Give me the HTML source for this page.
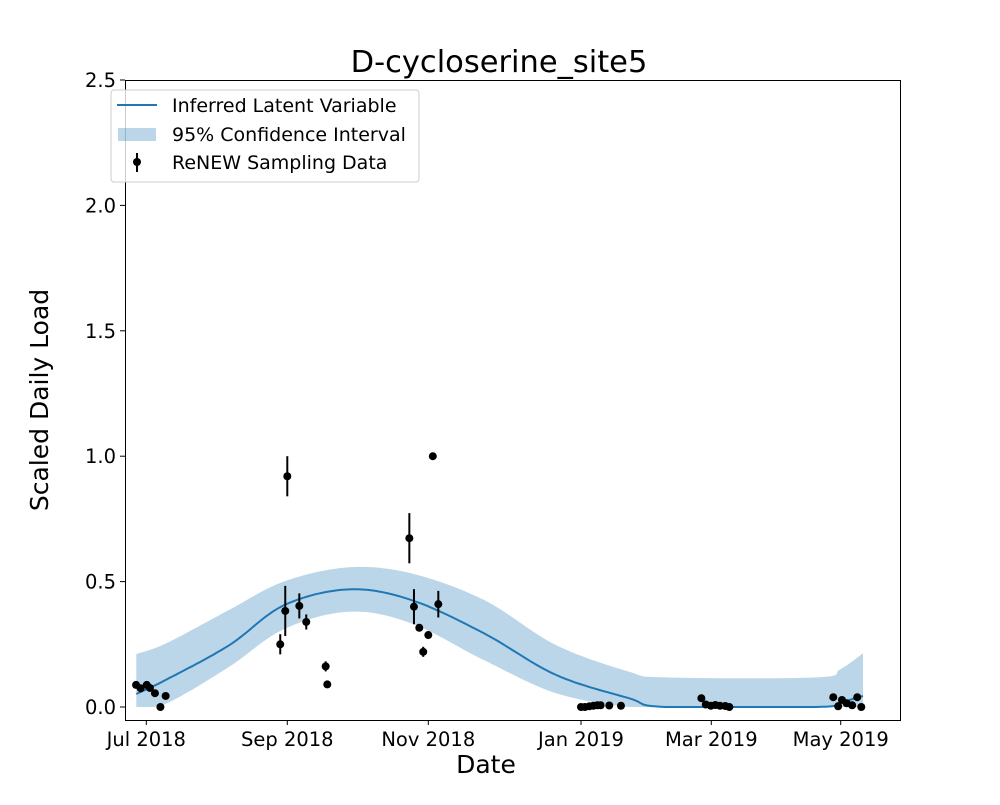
<!DOCTYPE html>
<html><head><meta charset="utf-8"><style>
body{margin:0;background:#fff}
svg text{font-family:"DejaVu Sans","Liberation Sans",sans-serif;fill:#000}
</style></head><body>
<svg id="chart" width="1000" height="800" xmlns="http://www.w3.org/2000/svg">
<rect width="1000" height="800" fill="#fff"/>
<g id="band"></g><g id="line"></g><g id="pts"></g>
<rect x="125.5" y="80.5" width="775" height="640" fill="none" stroke="#000" stroke-width="1"/>
<g id="xt"></g><g id="yt"></g>
<text x="499" y="72" font-size="30.5" text-anchor="middle">D-cycloserine_site5</text>
<text x="486" y="773" font-size="25" text-anchor="middle">Date</text>
<text transform="translate(48,400) rotate(-90)" font-size="25" text-anchor="middle">Scaled Daily Load</text>
<g>
<rect x="111" y="90" width="308" height="92" rx="3" fill="#fff" fill-opacity="0.8" stroke="#ccc"/>
<line x1="117" y1="105" x2="157" y2="105" stroke="#1f77b4" stroke-width="2"/>
<rect x="118" y="128" width="38" height="13" fill="#1f77b4" fill-opacity="0.3"/>
<line x1="137" y1="153" x2="137" y2="172" stroke="#000" stroke-width="2"/>
<circle cx="137" cy="162" r="4" fill="#000"/>
<text x="172" y="112" font-size="19">Inferred Latent Variable</text>
<text x="172" y="141" font-size="19">95% Confidence Interval</text>
<text x="172" y="169" font-size="19">ReNEW Sampling Data</text>
</g>
</svg>
<script>
// days since 2018-07-01
const pointDays=[-4.5,-2.5,0.2,1.6,3.8,6.2,8.5,58.9,61.1,62,67.2,70.2,78.6,79.3,114.8,116.8,119.1,120.8,123,124.8,127,184,185.8,187.8,189.6,191.4,192.9,196.8,202.1,238.5,240.5,242.8,244.9,247.1,249.6,251.5,300.5,302.8,304.6,306.8,309.4,311.8,313.7];
const pointValues=[0.088,0.075,0.088,0.076,0.055,0.0,0.044,0.25,0.383,0.92,0.403,0.339,0.162,0.09,0.673,0.40,0.316,0.22,0.287,1.0,0.41,0.0,0.0,0.003,0.005,0.007,0.007,0.006,0.005,0.035,0.01,0.005,0.008,0.005,0.004,0.0,0.039,0.003,0.028,0.015,0.007,0.039,0.0];
const pointErrors=[0.01,0.01,0.015,0.01,0.005,0,0.005,0.04,0.1,0.08,0.05,0.03,0.02,0.005,0.1,0.07,0.01,0.02,0.005,0,0.053,0,0,0,0,0,0,0,0,0,0,0,0,0,0,0,0,0,0,0,0,0,0];
const curveDays=[-4.4,9,36.4,60.4,88.6,115.5,145.2,174,205.7,222.3,292.7,303.7,314.5];
const latentMean=[0.052,0.11,0.246,0.405,0.469,0.427,0.294,0.128,0.035,0,0,0.018,0.044];
const upperCI=[0.211,0.255,0.387,0.5,0.557,0.533,0.427,0.247,0.141,0.118,0.118,0.15,0.214];
const lowerCI=[0,0.015,0.16,0.31,0.38,0.334,0.187,0.055,0,0,0,0,0];
const xTickDays=[0,62,123,184,243,304];
const xTickLabels=["Jul 2018","Sep 2018","Nov 2018","Jan 2019","Mar 2019","May 2019"];
const yTickValues=[0,0.5,1.0,1.5,2.0,2.5];
const yTickLabels=["0.0","0.5","1.0","1.5","2.0","2.5"];

const tickPx=[146.3,287.3,428.3,581,711.3,840.7];
function xs(d){
  let i=0; while(i<xTickDays.length-2 && d>xTickDays[i+1]) i++;
  const t=(d-xTickDays[i])/(xTickDays[i+1]-xTickDays[i]);
  return tickPx[i]+t*(tickPx[i+1]-tickPx[i]);
}
function ys(v){return 707-v*250.8;}
const NS="http://www.w3.org/2000/svg";
function mk(tag,attrs,parent){const e=document.createElementNS(NS,tag);for(const k in attrs)e.setAttribute(k,attrs[k]);parent.appendChild(e);return e;}
function spline(days,vals){
  const P=days.map((d,i)=>[xs(d),ys(vals[i])]);
  const out=[];
  for(let i=0;i<P.length-1;i++){
    const a=P[i>0?i-1:i],b=P[i],c=P[i+1],d=P[i+2<P.length?i+2:i+1];
    for(let s=0;s<16;s++){
      const t=s/16,t2=t*t,t3=t2*t;
      const f=(a,b,c,d)=>0.5*((2*b)+(-a+c)*t+(2*a-5*b+4*c-d)*t2+(-a+3*b-3*c+d)*t3);
      let y=f(a[1],b[1],c[1],d[1]); if(y>707)y=707;
      out.push([f(a[0],b[0],c[0],d[0]),y]);
    }
  }
  out.push(P[P.length-1]);
  return out;
}
const up=spline(curveDays,upperCI),lo=spline(curveDays,lowerCI),mn=spline(curveDays,latentMean);
const bandPts=up.concat(lo.slice().reverse()).map(p=>p[0].toFixed(1)+","+p[1].toFixed(1)).join(" ");
const band=mk("polygon",{points:bandPts,fill:"#1f77b4","fill-opacity":"0.3"},document.getElementById("band"));


const ln=mk("polyline",{points:mn.map(p=>p[0].toFixed(1)+","+p[1].toFixed(1)).join(" "),fill:"none",stroke:"#1f77b4","stroke-width":"2"},document.getElementById("line"));


const pg=document.getElementById("pts");
pointDays.forEach((d,i)=>{
  const g=mk("g",{},pg);
  
  
  const x=xs(d),v=pointValues[i],e=pointErrors[i];
  if(e>0)mk("line",{x1:x,x2:x,y1:ys(v+e),y2:ys(v-e),stroke:"#000","stroke-width":"2"},g);
  mk("circle",{cx:x,cy:ys(v),r:4,fill:"#000"},g);
});
const xt=document.getElementById("xt");
xTickDays.forEach((d,i)=>{
  const x=xs(d);
  mk("line",{x1:x,x2:x,y1:720,y2:725,stroke:"#000"},xt);
  const t=mk("text",{x:x,y:746,"font-size":"19.5","text-anchor":"middle"},xt);
  t.textContent=xTickLabels[i];
  
  
});
const yt=document.getElementById("yt");
yTickValues.forEach((v,i)=>{
  const y=ys(v);
  mk("line",{x1:120,x2:125,y1:y,y2:y,stroke:"#000"},yt);
  const t=mk("text",{x:116,y:y+7,"font-size":"19.5","text-anchor":"end"},yt);
  t.textContent=yTickLabels[i];
  
  
});
</script>
</body></html>
